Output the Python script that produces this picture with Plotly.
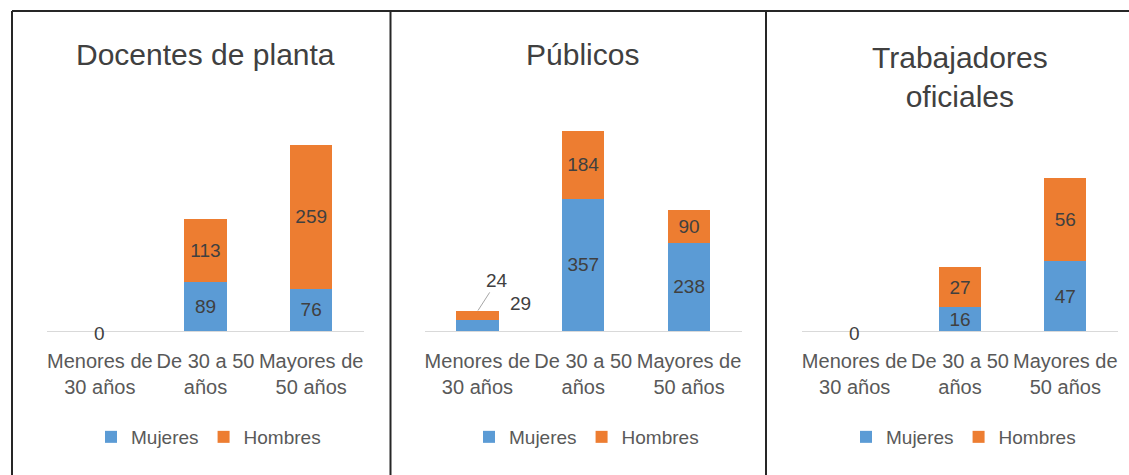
import plotly.graph_objects as go

# ---------------- data ----------------
categories = ["Menores de 30 años", "De 30 a 50 años", "Mayores de 50 años"]
tick_labels = ["Menores de<br>30 años", "De 30 a 50<br>años", "Mayores de<br>50 años"]
panel_titles = ["Docentes de planta", "Públicos", "Trabajadores<br>oficiales"]
series_names = ["Mujeres", "Hombres"]

docentes_mujeres = [0, 89, 76]
docentes_hombres = [0, 113, 259]
publicos_mujeres = [29, 357, 238]
publicos_hombres = [24, 184, 90]
oficiales_mujeres = [0, 16, 47]
oficiales_hombres = [0, 27, 56]

y_max = [400, 600, 120]

# ---------------- style ----------------
W, H = 1129, 475
FONT = "Liberation Sans, Arial, sans-serif"
BLUE = "#5B9BD5"
ORANGE = "#ED7D31"
LABEL_COLOR = "#404040"
AXIS_TEXT = "#595959"
TITLE_COLOR = "#404040"


def px(x):
    return x / W


def py(y):
    return 1 - y / H


panels = [
    (docentes_mujeres, docentes_hombres),
    (publicos_mujeres, publicos_hombres),
    (oficiales_mujeres, oficiales_hombres),
]
x_domains = [(47, 364), (424.5, 742), (802, 1118)]
base_px = 331
top_px = [109, 109, 152.5]
title_pos = [(205, 54, 1), (583, 54, 1), (960, 77, 2)]
legend_x = [91, 469, 846]
frame_x = [12, 390.5, 766]

fig = go.Figure()
annotations = []

for i, (mujeres, hombres) in enumerate(panels):
    xa = "x" if i == 0 else f"x{i+1}"
    ya = "y" if i == 0 else f"y{i+1}"
    leg = "legend" if i == 0 else f"legend{i+1}"
    plot_h = base_px - top_px[i]
    scale = plot_h / y_max[i]

    for name, vals, color in ((series_names[0], mujeres, BLUE),
                              (series_names[1], hombres, ORANGE)):
        texts = [str(v) if v * scale >= 15 else "" for v in vals]
        fig.add_trace(go.Bar(
            x=categories, y=vals, name=name, marker_color=color,
            marker_line_width=0,
            text=texts, textposition="inside", insidetextanchor="middle",
            constraintext="none",
            textfont=dict(family=FONT, size=19, color=LABEL_COLOR),
            xaxis=xa, yaxis=ya, legend=leg, hoverinfo="x+y+name",
        ))

    # zero value labels centered on the baseline
    for j in range(len(categories)):
        if mujeres[j] == 0 and hombres[j] == 0:
            annotations.append(dict(
                x=categories[j], y=0, xref=xa, yref=ya, text=str(hombres[j]),
                showarrow=False, xanchor="center", yanchor="middle", yshift=-2,
                font=dict(family=FONT, size=19, color=LABEL_COLOR)))

    # panel title
    tx, ty, nl = title_pos[i]
    annotations.append(dict(
        x=px(tx), y=py(ty), xref="paper", yref="paper", text=panel_titles[i],
        showarrow=False, xanchor="center", yanchor="middle",
        font=dict(family=FONT, size=30, color=TITLE_COLOR)))

    fig.update_layout(**{
        ("xaxis" if i == 0 else f"xaxis{i+1}"): dict(
            domain=[px(x_domains[i][0]), px(x_domains[i][1])],
            anchor=ya, type="category", categoryorder="array",
            categoryarray=categories, tickvals=categories, ticktext=tick_labels,
            showline=True, linecolor="#D9D9D9", linewidth=1,
            showgrid=False, ticks="", zeroline=False,
            tickfont=dict(family=FONT, size=20, color=AXIS_TEXT),
            ticklabelstandoff=12, fixedrange=True),
        ("yaxis" if i == 0 else f"yaxis{i+1}"): dict(
            domain=[py(base_px), py(top_px[i])], anchor=xa,
            range=[0, y_max[i]], visible=False, showgrid=False,
            zeroline=False, fixedrange=True),
        leg: dict(
            orientation="h", x=px(legend_x[i]), xanchor="left",
            y=py(437), yanchor="middle", traceorder="normal",
            font=dict(family=FONT, size=19, color=AXIS_TEXT),
            bgcolor="rgba(0,0,0,0)"),
    })

# Públicos, first category: small segments labelled outside the bar
annotations.append(dict(
    x=categories[0], y=publicos_mujeres[0] + publicos_hombres[0], xref="x2", yref="y2",
    text=str(publicos_hombres[0]), showarrow=True, arrowhead=0, arrowwidth=1,
    arrowcolor="#A6A6A6", ax=20, ay=-31, standoff=1,
    font=dict(family=FONT, size=19, color=LABEL_COLOR)))
annotations.append(dict(
    x=categories[0], y=publicos_mujeres[0], xref="x2", yref="y2",
    text=str(publicos_mujeres[0]), showarrow=False, xshift=43, yshift=17,
    font=dict(family=FONT, size=19, color=LABEL_COLOR)))

# frame lines
shapes = [dict(type="line", xref="paper", yref="paper",
               x0=px(12), x1=1, y0=py(11), y1=py(11),
               line=dict(color="#262626", width=2))]
for fx in frame_x:
    shapes.append(dict(type="line", xref="paper", yref="paper",
                       x0=px(fx), x1=px(fx), y0=py(11), y1=0,
                       line=dict(color="#262626", width=2)))

fig.update_layout(
    width=W, height=H, barmode="stack", bargap=0.6,
    margin=dict(l=0, r=0, t=0, b=0),
    paper_bgcolor="white", plot_bgcolor="white",
    annotations=annotations, shapes=shapes,
    uniformtext=dict(minsize=19, mode="show"),
    font=dict(family=FONT, color=AXIS_TEXT),
)

fig.write_html(
    "out.html",
    config={"displayModeBar": False},
    post_script="document.body.style.margin='0';document.body.style.overflow='hidden';",
)
